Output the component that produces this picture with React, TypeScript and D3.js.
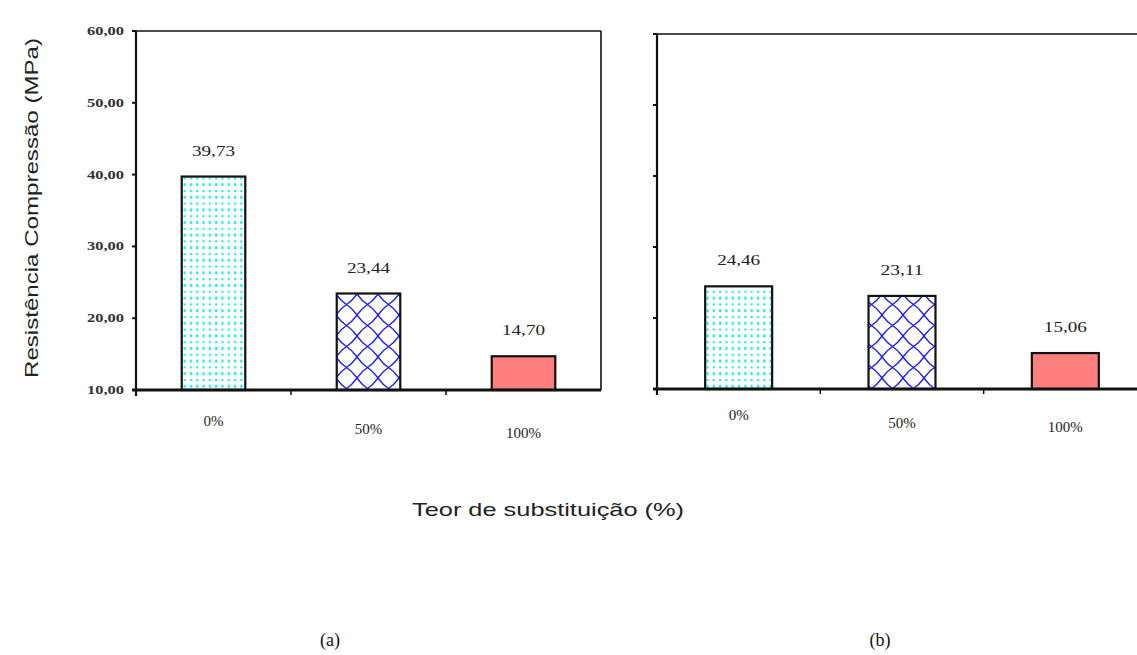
import React from 'react';
import * as d3 from 'd3';

const categories = ['0%', '50%', '100%'];
const valuesA = [39.73, 23.44, 14.7];
const valuesB = [24.46, 23.11, 15.06];
const yTicks = [10, 20, 30, 40, 50, 60];

const W = 1137;
const H = 655;
const serif = '"Liberation Serif", "DejaVu Serif", serif';
const sans = '"Liberation Sans", Arial, sans-serif';
const fills = ['url(#dots)', 'url(#lattice)', '#ff7f7f'];
// small downward drift of the category labels, as in the scan
const catDrop = [0, 8, 12];

const fmt = (v: number) => v.toFixed(2).replace('.', ',');

type PanelProps = {
  values: number[];
  left: number;
  right: number;
  top: number;
  bottom: number;
  tickLabels?: boolean;
  catY: number;
};

const Panel = ({ values, left, right, top, bottom, tickLabels, catY }: PanelProps) => {
  const y = d3.scaleLinear().domain([10, 60]).range([bottom, top]);
  const x = d3.scaleBand<string>().domain(categories).range([left, right]).padding(0);
  const bw = x.bandwidth();
  const barW = bw * 0.41;

  return (
    <g>
      {/* frame */}
      <line x1={left} x2={Math.min(right, W)} y1={top} y2={top} stroke="#111" strokeWidth={1.6} />
      {right <= W && (
        <line x1={right} x2={right} y1={top} y2={bottom} stroke="#111" strokeWidth={1.6} />
      )}

      {categories.map((c, i) => {
        const v = values[i];
        const bx = (x(c) as number) + (bw - barW) / 2;
        return (
          <g key={c}>
            <rect
              x={bx}
              y={y(v)}
              width={barW}
              height={bottom - y(v)}
              fill={fills[i]}
              stroke="#111"
              strokeWidth={2.2}
            />
            <text
              x={bx + barW / 2}
              y={y(v) - 21}
              textAnchor="middle"
              fontFamily={serif}
              fontSize={15}
              fill="#222"
              textLength={43}
              lengthAdjust="spacingAndGlyphs"
            >
              {fmt(v)}
            </text>
            <text
              x={bx + barW / 2}
              y={catY + catDrop[i] + 5}
              textAnchor="middle"
              fontFamily={serif}
              fontSize={15}
              fill="#222"
            >
              {c}
            </text>
          </g>
        );
      })}

      {/* y axis */}
      <line x1={left} x2={left} y1={top} y2={bottom + 6} stroke="#111" strokeWidth={2.2} />
      {yTicks.map(t => (
        <g key={t}>
          <line x1={left - 4} x2={left} y1={y(t)} y2={y(t)} stroke="#111" strokeWidth={2} />
          {tickLabels && (
            <text
              x={left - 12}
              y={y(t) + 4}
              textAnchor="end"
              fontFamily={serif}
              fontSize={12}
              fontWeight="bold"
              fill="#333"
              textLength={37}
              lengthAdjust="spacingAndGlyphs"
            >
              {fmt(t)}
            </text>
          )}
        </g>
      ))}

      {/* x axis */}
      <line x1={left - 4} x2={Math.min(right, W)} y1={bottom} y2={bottom} stroke="#111" strokeWidth={3} />
      {categories.slice(1).map(c => (
        <line
          key={c}
          x1={x(c)}
          x2={x(c)}
          y1={bottom}
          y2={bottom + 5}
          stroke="#111"
          strokeWidth={1.5}
        />
      ))}
    </g>
  );
};

const App = () => {
  return (
    <svg
      width={W}
      height={H}
      style={{ position: 'absolute', left: 0, top: 0, background: '#fff' }}
    >
      <defs>
        <pattern id="dots" patternUnits="userSpaceOnUse" width={6.3} height={12.6}>
          <rect width={6.3} height={12.6} fill="#fff" />
          <rect x={1} y={1} width={2} height={2} fill="#00f0f0" />
          <rect x={1} y={6.8} width={2} height={3} fill="#00f0f0" />
        </pattern>
        <pattern id="lattice" patternUnits="userSpaceOnUse" width={21} height={21}>
          <rect width={21} height={21} fill="#fff" />
          <path
            d="M0 0 Q4.5 6.5 10.5 10.5 Q16.5 14.5 21 21 M21 0 Q16.5 6.5 10.5 10.5 Q4.5 14.5 0 21"
            fill="none"
            stroke="#1a1aff"
            strokeWidth={1.4}
          />
        </pattern>
      </defs>
      <rect width={W} height={H} fill="#fff" />

      <Panel values={valuesA} left={136} right={601} top={31} bottom={390} tickLabels catY={421} />
      <Panel values={valuesB} left={657} right={1147} top={34} bottom={389} catY={415} />

      <text
        transform="translate(38,208) rotate(-90)"
        textAnchor="middle"
        fontFamily={sans}
        fontSize={19}
        fill="#222"
        textLength={340}
        lengthAdjust="spacingAndGlyphs"
      >
        Resistência Compressão (MPa)
      </text>
      <text
        x={548}
        y={516}
        textAnchor="middle"
        fontFamily={sans}
        fontSize={19}
        fill="#222"
        textLength={272}
        lengthAdjust="spacingAndGlyphs"
      >
        Teor de substituição (%)
      </text>

      <text x={330} y={646} textAnchor="middle" fontFamily={serif} fontSize={18} fill="#111">
        (a)
      </text>
      <text x={880} y={646} textAnchor="middle" fontFamily={serif} fontSize={18} fill="#111">
        (b)
      </text>
    </svg>
  );
};

export default App;
